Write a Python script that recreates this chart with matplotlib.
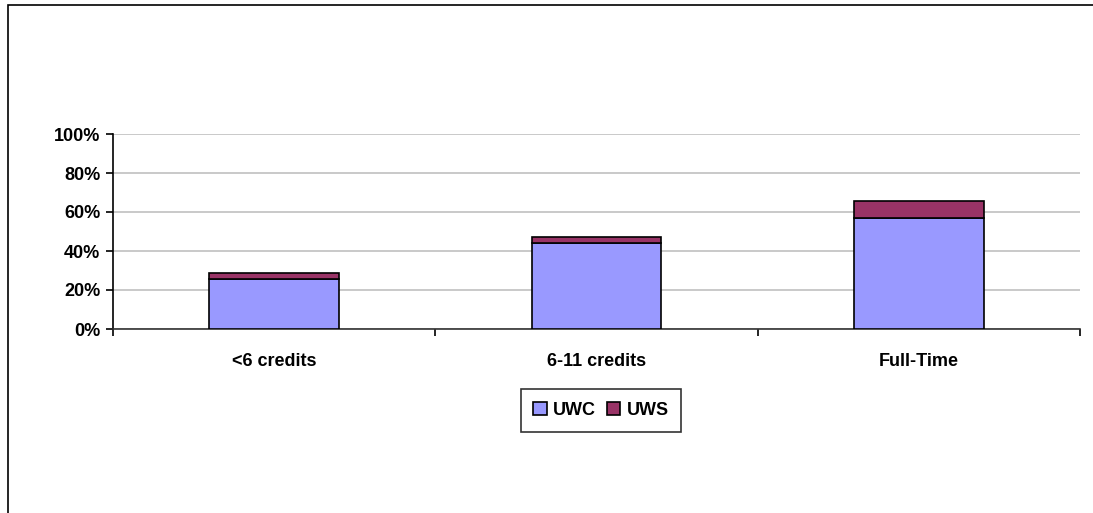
import matplotlib
matplotlib.use("Agg")
import matplotlib.pyplot as plt
from matplotlib.patches import Rectangle
import numpy as np

categories = ["<6 credits", "6-11 credits", "Full-Time"]
uwc = [25.5, 44.1, 56.8]
uws = [3.4, 3.1, 8.7]
yticks = [0, 20, 40, 60, 80, 100]
ytick_labels = ["0%", "20%", "40%", "60%", "80%", "100%"]

plt.rcParams['font.family'] = ['Liberation Sans', 'DejaVu Sans']
FS = 13

fig = plt.figure(figsize=(10.93, 5.13), dpi=100)
ax = fig.add_axes([113/1093, 1 - 329/513, (1080 - 113)/1093, (329 - 134)/513])

x = np.arange(len(categories))
w = 0.403
ax.bar(x, uwc, width=w, color="#9999FF", edgecolor="black", linewidth=1.2, label="UWC", zorder=3)
ax.bar(x, uws, width=w, bottom=uwc, color="#993366", edgecolor="black", linewidth=1.2, label="UWS", zorder=3)

ax.set_xlim(-0.5, len(categories) - 0.5)
ax.set_ylim(0, 100)
ax.set_yticks(yticks)
ax.set_yticklabels(ytick_labels, fontsize=FS, fontweight="bold")
ax.yaxis.grid(True, color="#C0C0C0", linewidth=1.2, zorder=0)
ax.set_axisbelow(True)

ax.set_xticks(x)
ax.set_xticklabels(categories, fontsize=FS, fontweight="bold")
ax.tick_params(axis="x", length=0, pad=17)
ax.set_xticks(np.arange(-0.5, len(categories)), minor=True)
ax.tick_params(axis="x", which="minor", length=5, width=1.2, direction="out")
ax.tick_params(axis="y", length=5, width=1.2, direction="out", pad=4)

for s in ["top", "right"]:
    ax.spines[s].set_visible(False)
ax.spines["left"].set_linewidth(1.2)
ax.spines["bottom"].set_linewidth(1.2)
ax.spines["bottom"].set_color("#333333")

leg = fig.legend(loc="center", bbox_to_anchor=(601/1093, 1 - 410.5/513), ncol=2,
                 prop={"weight": "bold", "size": FS}, frameon=True, fancybox=False,
                 edgecolor="black", handlelength=0.75, handleheight=0.75,
                 handletextpad=0.35, columnspacing=0.6, borderpad=0.7)
leg.get_frame().set_linewidth(1.2)

fig.patches.append(Rectangle((8/1093, -0.05), 1.1, 1 - 5/513 + 0.05, transform=fig.transFigure,
                             fill=False, edgecolor="black", linewidth=1.2))

fig.savefig("out.png", dpi=100)
